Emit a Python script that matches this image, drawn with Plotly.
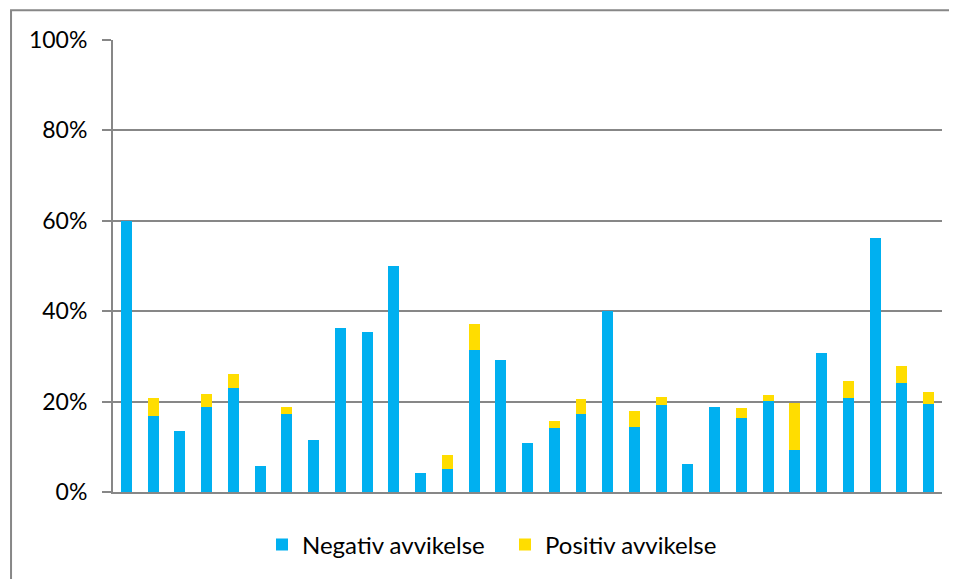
import plotly.graph_objects as go

categories = [str(i) for i in range(1, 32)]
negativ = [60.0, 16.9, 13.5, 18.9, 22.9, 5.8, 17.3, 11.6, 36.3, 35.3, 50.0,
           4.2, 5.0, 31.4, 29.3, 10.8, 14.1, 17.2, 40.0, 14.4, 19.2,
           6.3, 18.9, 16.3, 20.2, 9.4, 30.7, 20.9, 56.3, 24.1, 19.4]
positiv = [0.0, 3.9, 0.0, 2.8, 3.3, 0.0, 1.4, 0.0, 0.0, 0.0, 0.0,
           0.0, 3.2, 5.8, 0.0, 0.0, 1.7, 3.3, 0.0, 3.6, 1.9,
           0.0, 0.0, 2.3, 1.3, 10.2, 0.0, 3.7, 0.0, 3.7, 2.8]
tick_vals = [0, 20, 40, 60, 80, 100]
tick_text = ["0%", "20%", "40%", "60%", "80%", "100%"]

FONT = "Lato"
GRID = "#878787"

fig = go.Figure()
fig.add_trace(go.Bar(x=categories, y=[v / 100 for v in negativ], name="Negativ avvikelse",
                     marker=dict(color="#00B0F0", line=dict(width=0))))
fig.add_trace(go.Bar(x=categories, y=[v / 100 for v in positiv], name="Positiv avvikelse",
                     marker=dict(color="#FFDD00", line=dict(width=0))))

fig.update_layout(
    barmode="stack",
    bargap=0.59,
    width=957, height=579,
    margin=dict(l=105, r=23, t=32, b=95),
    paper_bgcolor="white", plot_bgcolor="white",
    font=dict(family=FONT, size=23, color="black"),
    showlegend=True,
    legend=dict(orientation="h", x=(254 - 105) / 829, xanchor="left", y=-0.117, yanchor="middle",
                font=dict(family=FONT, size=24, color="black"), traceorder="normal",
                entrywidth=198, entrywidthmode="pixels", itemwidth=30),
    xaxis=dict(showticklabels=False, showgrid=False, showline=True, linecolor=GRID,
               linewidth=2, ticks="", zeroline=False, fixedrange=True),
    yaxis=dict(range=[0, 1], tickvals=[v / 100 for v in tick_vals], ticktext=tick_text,
               showgrid=True, gridcolor=GRID, gridwidth=2, showline=True, linecolor=GRID,
               linewidth=2, ticks="outside", ticklen=9, tickcolor=GRID, tickwidth=2,
               zeroline=False, tickfont=dict(family=FONT, size=23, color="black"),
               ticklabelstandoff=10),
    shapes=[dict(type="rect", xref="paper", yref="paper",
                 x0=-0.123, x1=1.08, y0=-0.3, y1=1.066,
                 line=dict(color=GRID, width=2), fillcolor="rgba(0,0,0,0)", layer="below")],
)

fig.write_html("out.html")
